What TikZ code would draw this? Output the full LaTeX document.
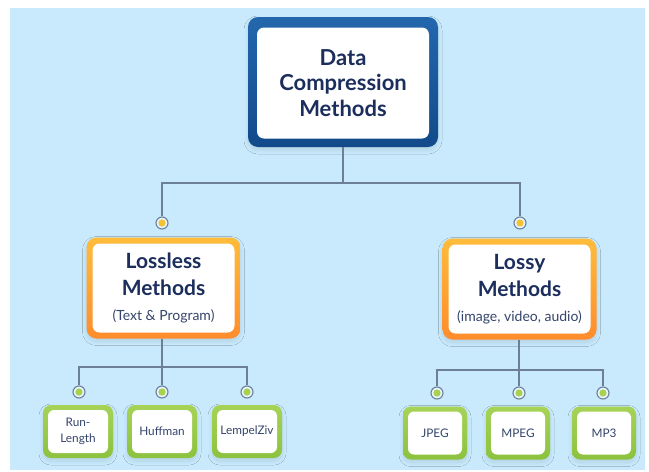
\documentclass[tikz,border=0pt]{standalone}
\usepackage{fontspec}
\setmainfont{Lato}
\usetikzlibrary{shadows.blur}
\definecolor{bgblue}{HTML}{C8EAFC}
\definecolor{navy}{HTML}{1B2E5C}
\definecolor{subtxt}{HTML}{34446A}
\definecolor{linec}{HTML}{6C7F96}
\definecolor{blueT}{HTML}{2367AD}
\definecolor{blueB}{HTML}{124A8A}
\definecolor{oraT}{HTML}{FFBC3A}
\definecolor{oraB}{HTML}{FF8C2C}
\definecolor{grnT}{HTML}{A6D356}
\definecolor{grnB}{HTML}{8CC23E}
\definecolor{dotY}{HTML}{F2C232}
\definecolor{dotG}{HTML}{A8D14E}
\definecolor{ringfill}{HTML}{E6F4FC}
\tikzset{
  outerbox/.style={rounded corners=10pt, inner sep=0pt,
    blur shadow={shadow blur steps=10, shadow xshift=0pt, shadow yshift=-3pt, shadow opacity=10, shadow blur radius=4pt}},
  innerbox/.style={rounded corners=7pt, fill=white, inner sep=0pt, align=center},
  rootouter/.style={outerbox, top color=blueT, bottom color=blueB, minimum width=190pt, minimum height=130pt},
  rootinner/.style={innerbox, minimum width=172pt, minimum height=111pt, text=navy,
    font=\bfseries\fontsize{22}{25.5}\selectfont},
  midouter/.style={outerbox, top color=oraT, bottom color=oraB, minimum width=154pt, minimum height=101pt},
  midinner/.style={innerbox, minimum width=142pt, minimum height=89pt, text=navy,
    font=\bfseries\fontsize{21}{27}\selectfont},
  leafouter/.style={outerbox, rounded corners=8pt, top color=grnT, bottom color=grnB, minimum height=53pt},
  leafinner/.style={innerbox, rounded corners=6pt, minimum height=43pt, text=subtxt,
    font=\fontsize{11.8}{15.5}\selectfont},
  conn/.style={draw=linec, line width=1.2pt},
  ring/.style={circle, draw=linec, line width=1.1pt, fill=ringfill, minimum size=12pt, inner sep=0pt,
    path picture={\fill[#1] (path picture bounding box.center) circle (3.6pt);}},
}
\newcommand{\subtext}[1]{{\normalfont\color{subtxt}\fontsize{14}{15}\selectfont #1}}
\begin{document}
\begin{tikzpicture}[x=1pt,y=-1pt]
\useasboundingbox (0,0) rectangle (649,472);
\fill[white] (0,0) rectangle (649,472);
\fill[bgblue] (10,8) rectangle (645,470);

% root
\node[rootouter] (root) at (343,82) {};
\node[rootinner] (rootin) at (343,83) {Data\\Compression\\Methods};

% middle level
\node[midouter] (lossless) at (163.5,288) {};
\node[midinner] (losslessin) at (163.5,288) {Lossless\\Methods\\[-2pt]\subtext{(Text \& Program)}};
\node[midouter] (lossy) at (519.5,289) {};
\node[midinner] (lossyin) at (519.5,289) {Lossy\\Methods\\[-2pt]\subtext{(image, video, audio)}};

% leaves left
\node[leafouter, minimum width=70pt] (rl) at (78,431.5) {};
\node[leafinner, minimum width=60pt] (rlin) at (78,431.5) {Run-\\Length};
\node[leafouter, minimum width=70pt] (hf) at (162,431.5) {};
\node[leafinner, minimum width=60pt] (hfin) at (162,431.5) {Huffman};
\node[leafouter, minimum width=70pt] (lz) at (247,431.5) {};
\node[leafinner, minimum width=60pt] (lzin) at (247,431.5) {LempelZiv};

% leaves right
\node[leafouter, minimum width=64pt] (jp) at (435,433) {};
\node[leafinner, minimum width=54pt] (jpin) at (435,433) {JPEG};
\node[leafouter, minimum width=64pt] (mp) at (518,433) {};
\node[leafinner, minimum width=54pt] (mpin) at (518,433) {MPEG};
\node[leafouter, minimum width=64pt] (m3) at (604,433) {};
\node[leafinner, minimum width=54pt] (m3in) at (604,433) {MP3};

% rings
\node[ring=dotY] (c1) at (162,223) {};
\node[ring=dotY] (c2) at (520,223) {};
\node[ring=dotG] (d1) at (79,392) {};
\node[ring=dotG] (d2) at (162,392) {};
\node[ring=dotG] (d3) at (247,392) {};
\node[ring=dotG] (e1) at (437,393) {};
\node[ring=dotG] (e2) at (519,393) {};
\node[ring=dotG] (e3) at (603,393) {};

% connectors
\coordinate (j0) at (343,183);
\draw[conn] (root.south) -- (j0);
\draw[conn] (j0) -| (c1.north);
\draw[conn] (j0) -| (c2.north);

\coordinate (j1) at (162,367);
\draw[conn] (lossless.south -| j1) -- (j1);
\draw[conn] (j1) -| (d1.north);
\draw[conn] (j1) -- (d2.north);
\draw[conn] (j1) -| (d3.north);

\coordinate (j2) at (519,370);
\draw[conn] (lossy.south -| j2) -- (j2);
\draw[conn] (j2) -| (e1.north);
\draw[conn] (j2) -- (e2.north);
\draw[conn] (j2) -| (e3.north);
\end{tikzpicture}
\end{document}
